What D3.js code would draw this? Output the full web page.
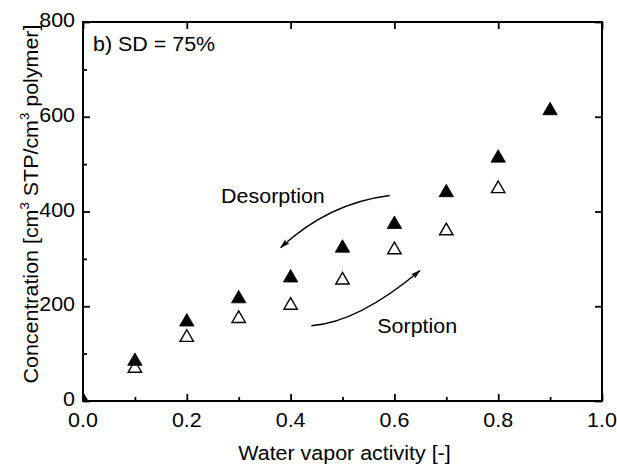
<!DOCTYPE html>
<html>
<head>
<meta charset="utf-8">
<script src="https://cdn.jsdelivr.net/npm/d3@7"></script>
<style>
  html, body { margin: 0; padding: 0; background: #fff; }
  svg { display: block; }
  text { font-family: "Liberation Sans", Arial, Helvetica, sans-serif; fill: #000; }
</style>
</head>
<body>
<svg id="chart" width="617" height="465"></svg>
<script>
// Water vapor activity (x) and sorbed concentration (y)
const activity = [0.0, 0.1, 0.2, 0.3, 0.4, 0.5, 0.6, 0.7, 0.8, 0.9];
const desorption = [0, 84, 167, 216, 260, 323, 373, 440, 513, 613];
const sorptionActivity = [0.0, 0.1, 0.2, 0.3, 0.4, 0.5, 0.6, 0.7, 0.8];
const sorption = [0, 69, 134, 174, 202, 255, 319, 359, 448];

const xTicks = [0.0, 0.2, 0.4, 0.6, 0.8, 1.0];
const xMinorTicks = [0.1, 0.3, 0.5, 0.7, 0.9];
const yTicks = [0, 200, 400, 600, 800];
const yMinorTicks = [100, 300, 500, 700];

// Curved arrows in data coordinates: start, control, end
const desorptionArrow = [[0.591, 434], [0.473, 418], [0.381, 324]];
const sorptionArrow = [[0.440, 159], [0.530, 166], [0.649, 275]];

const svg = d3.select("#chart");
const plotLeft = 83, plotRight = 602, plotTop = 22, plotBottom = 401;
const stretch = 1.1;
const fs = 19.5;

const x = d3.scaleLinear().domain([0, 1]).range([plotLeft, plotRight]);
const y = d3.scaleLinear().domain([0, 800]).range([plotBottom, plotTop]);

const defs = svg.append("defs");
defs.append("clipPath").attr("id", "plotClip")
  .append("rect").attr("x", plotLeft).attr("y", plotTop)
  .attr("width", plotRight - plotLeft).attr("height", plotBottom - plotTop);
defs.append("marker").attr("id", "head")
  .attr("viewBox", "0 0 10 6").attr("refX", 9).attr("refY", 3)
  .attr("markerWidth", 10).attr("markerHeight", 6)
  .attr("markerUnits", "userSpaceOnUse").attr("orient", "auto")
  .append("path").attr("d", "M0,0 L10,3 L0,6 L2,3 Z").attr("fill", "#000");

// text helper: slightly wide glyphs
function label(g, px, py, str, anchor, rot) {
  const t = g.append("text")
    .attr("transform", `translate(${px},${py})` + (rot ? ` rotate(${rot})` : "") + ` scale(${stretch},1)`)
    .attr("text-anchor", anchor || "start")
    .style("font-size", fs + "px");
  if (str !== null) t.text(str);
  return t;
}

// Axes with inward ticks
const axes = svg.append("g");
const axB = d3.axisBottom(x).tickValues(xTicks).tickSize(-7).tickFormat(() => "");
const axBm = d3.axisBottom(x).tickValues(xMinorTicks).tickSize(-4).tickFormat(() => "");
const axT = d3.axisTop(x).tickValues(xTicks).tickSize(-7).tickFormat(() => "");
const axL = d3.axisLeft(y).tickValues(yTicks).tickSize(-7).tickFormat(() => "");
const axLm = d3.axisLeft(y).tickValues(yMinorTicks).tickSize(-4).tickFormat(() => "");
const axR = d3.axisRight(y).tickValues(yTicks).tickSize(-7).tickFormat(() => "");

axes.append("g").attr("transform", `translate(0,${plotBottom})`).call(axB);
axes.append("g").attr("transform", `translate(0,${plotBottom})`).call(axBm);
axes.append("g").attr("transform", `translate(0,${plotTop})`).call(axT);
axes.append("g").attr("transform", `translate(${plotLeft},0)`).call(axL);
axes.append("g").attr("transform", `translate(${plotLeft},0)`).call(axLm);
axes.append("g").attr("transform", `translate(${plotRight},0)`).call(axR);
axes.selectAll(".domain").remove();
axes.selectAll(".tick line").attr("stroke", "#000").attr("stroke-width", 1.8);

axes.append("rect").attr("x", plotLeft).attr("y", plotTop)
  .attr("width", plotRight - plotLeft).attr("height", plotBottom - plotTop)
  .attr("fill", "none").attr("stroke", "#000").attr("stroke-width", 2);

// Tick labels
xTicks.forEach(v => label(svg, x(v), 427, d3.format(".1f")(v), "middle"));
yTicks.forEach(v => label(svg, 75, y(v) + 5, String(v), "end"));

// Axis titles
label(svg, (plotLeft + plotRight) / 2 + 2, 460, "Water vapor activity [-]", "middle");
const yt = label(svg, 38, 204, null, "middle", -90);
yt.append("tspan").text("Concentration [cm");
yt.append("tspan").attr("dy", -9).style("font-size", "12px").text("3");
yt.append("tspan").attr("dy", 9).text(" STP/cm");
yt.append("tspan").attr("dy", -9).style("font-size", "12px").text("3");
yt.append("tspan").attr("dy", 9).text(" polymer]");

// Panel tag
label(svg, 93, 51, "b) SD = 75%", "start");

// Data markers
const plot = svg.append("g").attr("clip-path", "url(#plotClip)");
const tri = d3.symbol().type(d3.symbolTriangle);

plot.selectAll(".open").data(sorptionActivity.map((a, i) => [a, sorption[i]]))
  .join("path").attr("class", "open")
  .attr("transform", d => `translate(${x(d[0])},${y(d[1])})`)
  .attr("d", tri.size(78)())
  .attr("fill", "#fff").attr("stroke", "#000").attr("stroke-width", 1.4);

plot.selectAll(".filled").data(activity.map((a, i) => [a, desorption[i]]))
  .join("path").attr("class", "filled")
  .attr("transform", d => `translate(${x(d[0])},${y(d[1])})`)
  .attr("d", tri.size(90)())
  .attr("fill", "#000").attr("stroke", "#000").attr("stroke-width", 0.8);

// Hysteresis direction arrows
function arrow(pts) {
  const p = pts.map(d => [x(d[0]), y(d[1])]);
  const path = d3.path();
  path.moveTo(p[0][0], p[0][1]);
  path.quadraticCurveTo(p[1][0], p[1][1], p[2][0], p[2][1]);
  svg.append("path").attr("d", path.toString())
    .attr("fill", "none").attr("stroke", "#000").attr("stroke-width", 1.5)
    .attr("marker-end", "url(#head)");
}
arrow(desorptionArrow);
arrow(sorptionArrow);

label(svg, x(0.366), 203, "Desorption", "middle");
label(svg, x(0.644), 333, "Sorption", "middle");
</script>
</body>
</html>
